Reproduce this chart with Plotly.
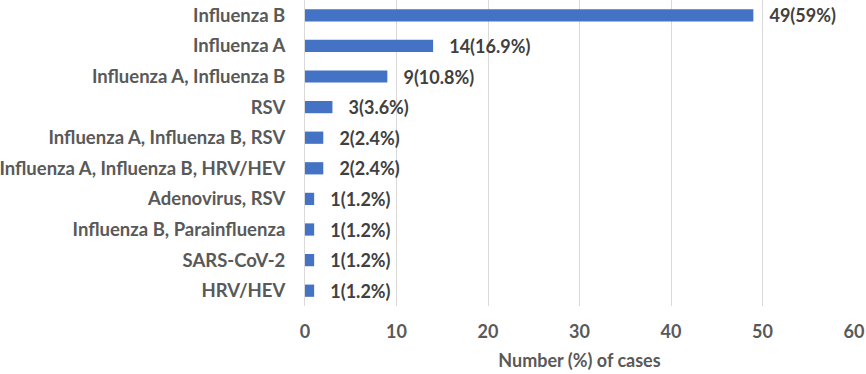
import plotly.graph_objects as go

categories = ["Influenza B", "Influenza A", "Influenza A, Influenza B", "RSV",
              "Influenza A, Influenza B, RSV", "Influenza A, Influenza B, HRV/HEV",
              "Adenovirus, RSV", "Influenza B, Parainfluenza", "SARS-CoV-2", "HRV/HEV"]
counts = [49, 14, 9, 3, 2, 2, 1, 1, 1, 1]
percents = ["59%", "16.9%", "10.8%", "3.6%", "2.4%", "2.4%", "1.2%", "1.2%", "1.2%", "1.2%"]
x_ticks = [0, 10, 20, 30, 40, 50, 60]

labels = [f"\u00a0\u00a0\u00a0{c}({p})" for c, p in zip(counts, percents)]

fig = go.Figure(go.Bar(
    y=categories, x=counts, orientation="h",
    marker=dict(color="#4472C4", line=dict(width=0)),
    width=0.4,
    text=labels, textposition="outside", cliponaxis=False, constraintext="none",
    textfont=dict(family="Lato", size=18, color="#404040", weight="bold"),
))

fig.update_layout(
    width=866, height=374,
    margin=dict(l=305, r=12, t=0, b=68, autoexpand=False),
    plot_bgcolor="white", paper_bgcolor="white",
    font=dict(family="Lato", size=18.5, color="#595959", weight="bold"),
    showlegend=False,
)
fig.update_xaxes(
    range=[0, 60], tickvals=x_ticks, showgrid=True, gridcolor="#D9D9D9", gridwidth=1,
    zeroline=False, showline=False, ticks="", automargin=False, ticklabelstandoff=13,
    title=dict(text="Number (%) of cases", font=dict(size=18, color="#595959", weight="bold"), standoff=13),
    tickfont=dict(size=18, color="#595959", weight="bold"),
)
fig.update_yaxes(
    autorange="reversed", showgrid=False, showline=True, linecolor="#D9D9D9", linewidth=1,
    ticks="", ticklabelstandoff=15, automargin=False,
    tickfont=dict(size=18.5, color="#595959", weight="bold"),
)

fig.write_html("out.html", config={"displayModeBar": False},
               post_script="document.body.style.margin='0';document.body.style.overflow='hidden';")
